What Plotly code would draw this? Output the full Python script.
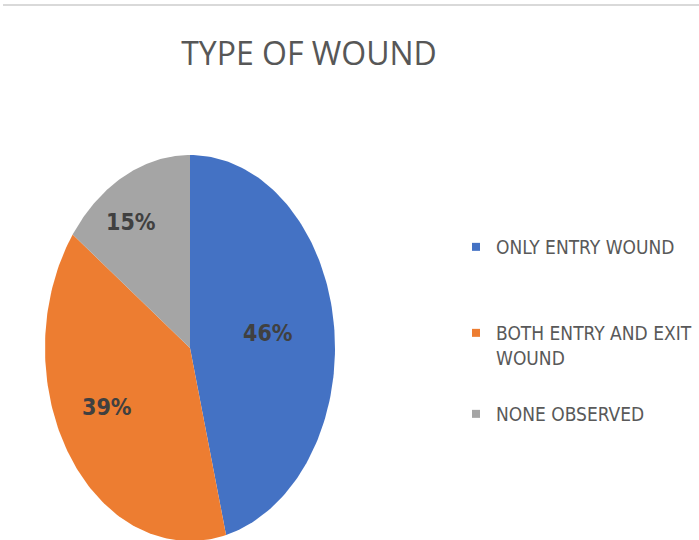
import numpy as np
import plotly.graph_objects as go

# ---- data ----
categories = ["ONLY ENTRY WOUND", "BOTH ENTRY AND EXIT WOUND", "NONE OBSERVED"]
legend_labels = ["ONLY ENTRY WOUND", "BOTH ENTRY AND EXIT<br>WOUND", "NONE OBSERVED"]
values = [46, 39, 15]
colors = ["#4472C4", "#ED7D31", "#A5A5A5"]
label_radius = [0.54, 0.65, 0.77]   # styling: where the % label sits in each slice
label_angle_adj = [-1, 6, -5]       # styling: small angular nudge of labels (degrees)
legend_top_px = [228, 314, 395]     # styling: legend entry positions

W, H = 699, 540
CX, CY, RX, RY = 190, 348, 145, 193  # ellipse geometry in pixels (layout)

FONT = "Liberation Sans Narrow, DejaVu Sans Condensed, Arial Narrow, sans-serif"

fig = go.Figure()

total = sum(values)
start = 0.0
for i, (cat, v, c) in enumerate(zip(categories, values, colors)):
    frac = v / total
    t = np.linspace(start, start + frac, 120) * 2 * np.pi
    xs = np.concatenate([[0], np.sin(t), [0]])
    ys = np.concatenate([[0], np.cos(t), [0]])
    fig.add_trace(go.Scatter(x=xs, y=ys, fill="toself", fillcolor=c, mode="lines",
                             line=dict(width=0, color=c), showlegend=False,
                             name=cat, hoverinfo="skip"))
    mid = (start + frac / 2) * 2 * np.pi + np.deg2rad(label_angle_adj[i])
    r = label_radius[i]
    fig.add_annotation(x=r * np.sin(mid), y=r * np.cos(mid), text=f"<b>{round(frac*100)}%</b>",
                       showarrow=False, font=dict(family=FONT, size=23, color="#404040"))
    start += frac

legend_names = ["legend", "legend2", "legend3"]
for i, (lab, c) in enumerate(zip(legend_labels, colors)):
    fig.add_trace(go.Scatter(x=[None], y=[None], mode="markers", name=lab,
                             marker=dict(symbol="square", size=8, color=c),
                             legend=legend_names[i]))

fig.update_xaxes(range=[-CX / RX, (W - CX) / RX], visible=False, domain=[0, 1])
fig.update_yaxes(range=[(CY - H) / RY, CY / RY], visible=False, domain=[0, 1])

fig.add_shape(type="line", xref="paper", yref="paper", x0=3 / W, x1=1, y0=1 - 5 / H, y1=1 - 5 / H,
              line=dict(color="#D9D9D9", width=2))

leg_common = dict(x=456 / W, xanchor="left", yanchor="top", valign="top",
                  font=dict(family=FONT, size=19, color="#595959"),
                  bgcolor="rgba(0,0,0,0)")

fig.update_layout(
    width=W, height=H,
    margin=dict(l=0, r=0, t=0, b=0, autoexpand=False),
    paper_bgcolor="white", plot_bgcolor="white",
    title=dict(text="TYPE OF WOUND", x=309 / W, xanchor="center", y=1 - 54 / H, yanchor="middle",
               font=dict(family="Open Sans, sans-serif", size=32, color="#575757")),
    legend=dict(y=1 - legend_top_px[0] / H, **leg_common),
    legend2=dict(y=1 - legend_top_px[1] / H, **leg_common),
    legend3=dict(y=1 - legend_top_px[2] / H, **leg_common),
    showlegend=True,
)

fig.write_html("out.html")
